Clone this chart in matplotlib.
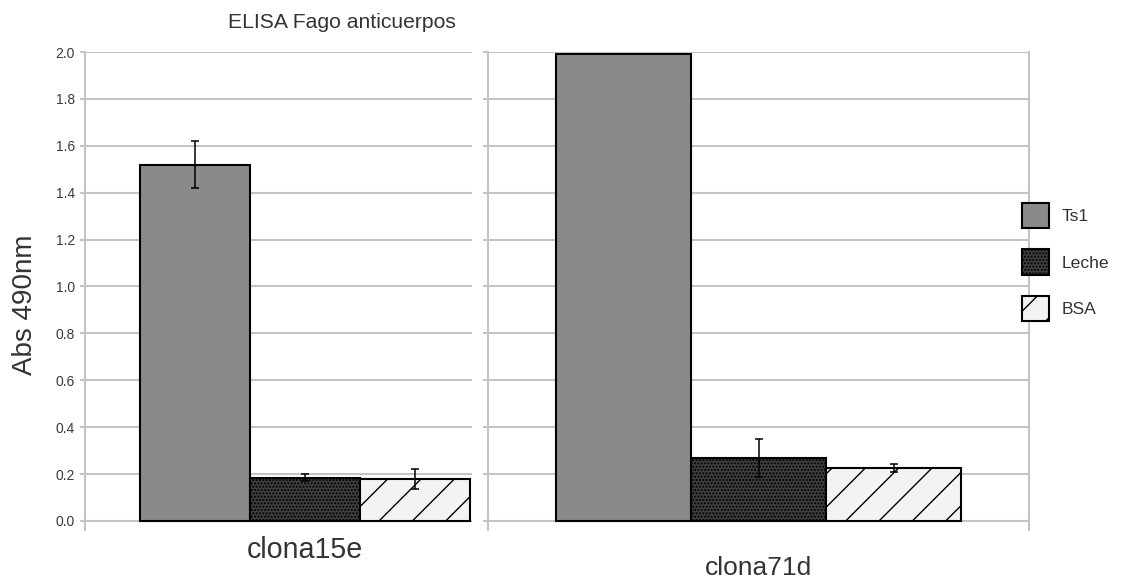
import matplotlib.pyplot as plt
import matplotlib.transforms as mtransforms

plt.rcParams['font.family'] = ['Liberation Sans', 'DejaVu Sans']
plt.rcParams['hatch.linewidth'] = 0.5

# ELISA readings (Abs 490nm) per clone, with standard deviations
categories = ['clona15e', 'clona71d']
series = ['Ts1', 'Leche', 'BSA']
ts1 = [1.52, 1.99]
ts1_err = [0.10, 0.0]
leche = [0.185, 0.27]
leche_err = [0.016, 0.081]
bsa = [0.178, 0.225]
bsa_err = [0.043, 0.016]
yticks = [0.0, 0.2, 0.4, 0.6, 0.8, 1.0, 1.2, 1.4, 1.6, 1.8, 2.0]

values = [ts1, leche, bsa]
errors = [ts1_err, leche_err, bsa_err]
faces = ['#8a8a8a', '#3e3e3e', '#f3f3f3']
hatches = [None, '..........', '//']

W, H, DPI = 1122, 580, 200
fig = plt.figure(figsize=(W / DPI, H / DPI), dpi=DPI)

def px_box(x0, x1, ytop, ybot):
    return [x0 / W, 1 - ybot / H, (x1 - x0) / W, (ybot - ytop) / H]

ax1 = fig.add_axes(px_box(85, 472, 52, 530))
ax2 = fig.add_axes(px_box(488, 1029, 52, 530))

grid_col = '#c4c4c4'
handles = []
for i, (ax, xlim) in enumerate([(ax1, (-1.0, 2.52)), (ax2, (-1.0, 3.0))]):
    for j in range(3):
        err = errors[j][i]
        b = ax.bar(j, values[j][i], width=1.0, color=faces[j], edgecolor='black',
                   linewidth=0.75, hatch=hatches[j],
                   yerr=err if err > 0 else None,
                   error_kw=dict(ecolor='black', elinewidth=0.55, capsize=1.5,
                                 capthick=0.55),
                   label=series[j])
        if i == 0:
            handles.append(b)
    ax.set_xlim(*xlim)
    ax.set_ylim(-0.0384, 2.0)
    ax.set_yticks(yticks)
    ax.set_axisbelow(True)
    ax.yaxis.grid(True, color=grid_col, linewidth=0.75)
    ax.set_xticks([])
    for s in ['top', 'bottom', 'right']:
        ax.spines[s].set_visible(False)
    ax.spines['left'].set_color(grid_col)
    ax.spines['left'].set_linewidth(0.75)
    ax.tick_params(axis='y', length=1.8, width=0.75, color=grid_col, pad=1.8,
                   labelsize=5.0, labelcolor='#3a3a3a')

ax1.set_yticklabels([f'{t:.1f}' for t in yticks])
ax2.set_yticklabels([])
ax2.spines['right'].set_visible(True)
ax2.spines['right'].set_color(grid_col)
ax2.spines['right'].set_linewidth(0.75)
ax2.spines['right'].set_bounds(-0.0384, 2.0)

# clone names under each group of bars
for ax, name, size, ypx in [(ax1, categories[0], 10.3, 550), (ax2, categories[1], 9.5, 568)]:
    trans = mtransforms.blended_transform_factory(ax.transData, fig.transFigure)
    ax.text(1, 1 - ypx / H, name, transform=trans, ha='center', va='center',
            fontsize=size, color='#333333')

fig.text(342 / W, 1 - 23 / H, 'ELISA Fago anticuerpos', ha='center', va='center',
         fontsize=7.6, color='#333333')
fig.text(25 / W, 1 - 305 / H, 'Abs 490nm', ha='center', va='center', rotation=90,
         fontsize=10.0, color='#333333')

fig.legend(handles=handles, labels=series, loc='upper left',
           bbox_to_anchor=(1022 / W, 1 - 203 / H), frameon=False,
           fontsize=6.3, handlelength=1.55, handleheight=1.85,
           handletextpad=0.7, labelspacing=1.2, borderpad=0, borderaxespad=0,
           labelcolor='#333333')

fig.savefig('out.png', dpi=DPI, facecolor='white')
